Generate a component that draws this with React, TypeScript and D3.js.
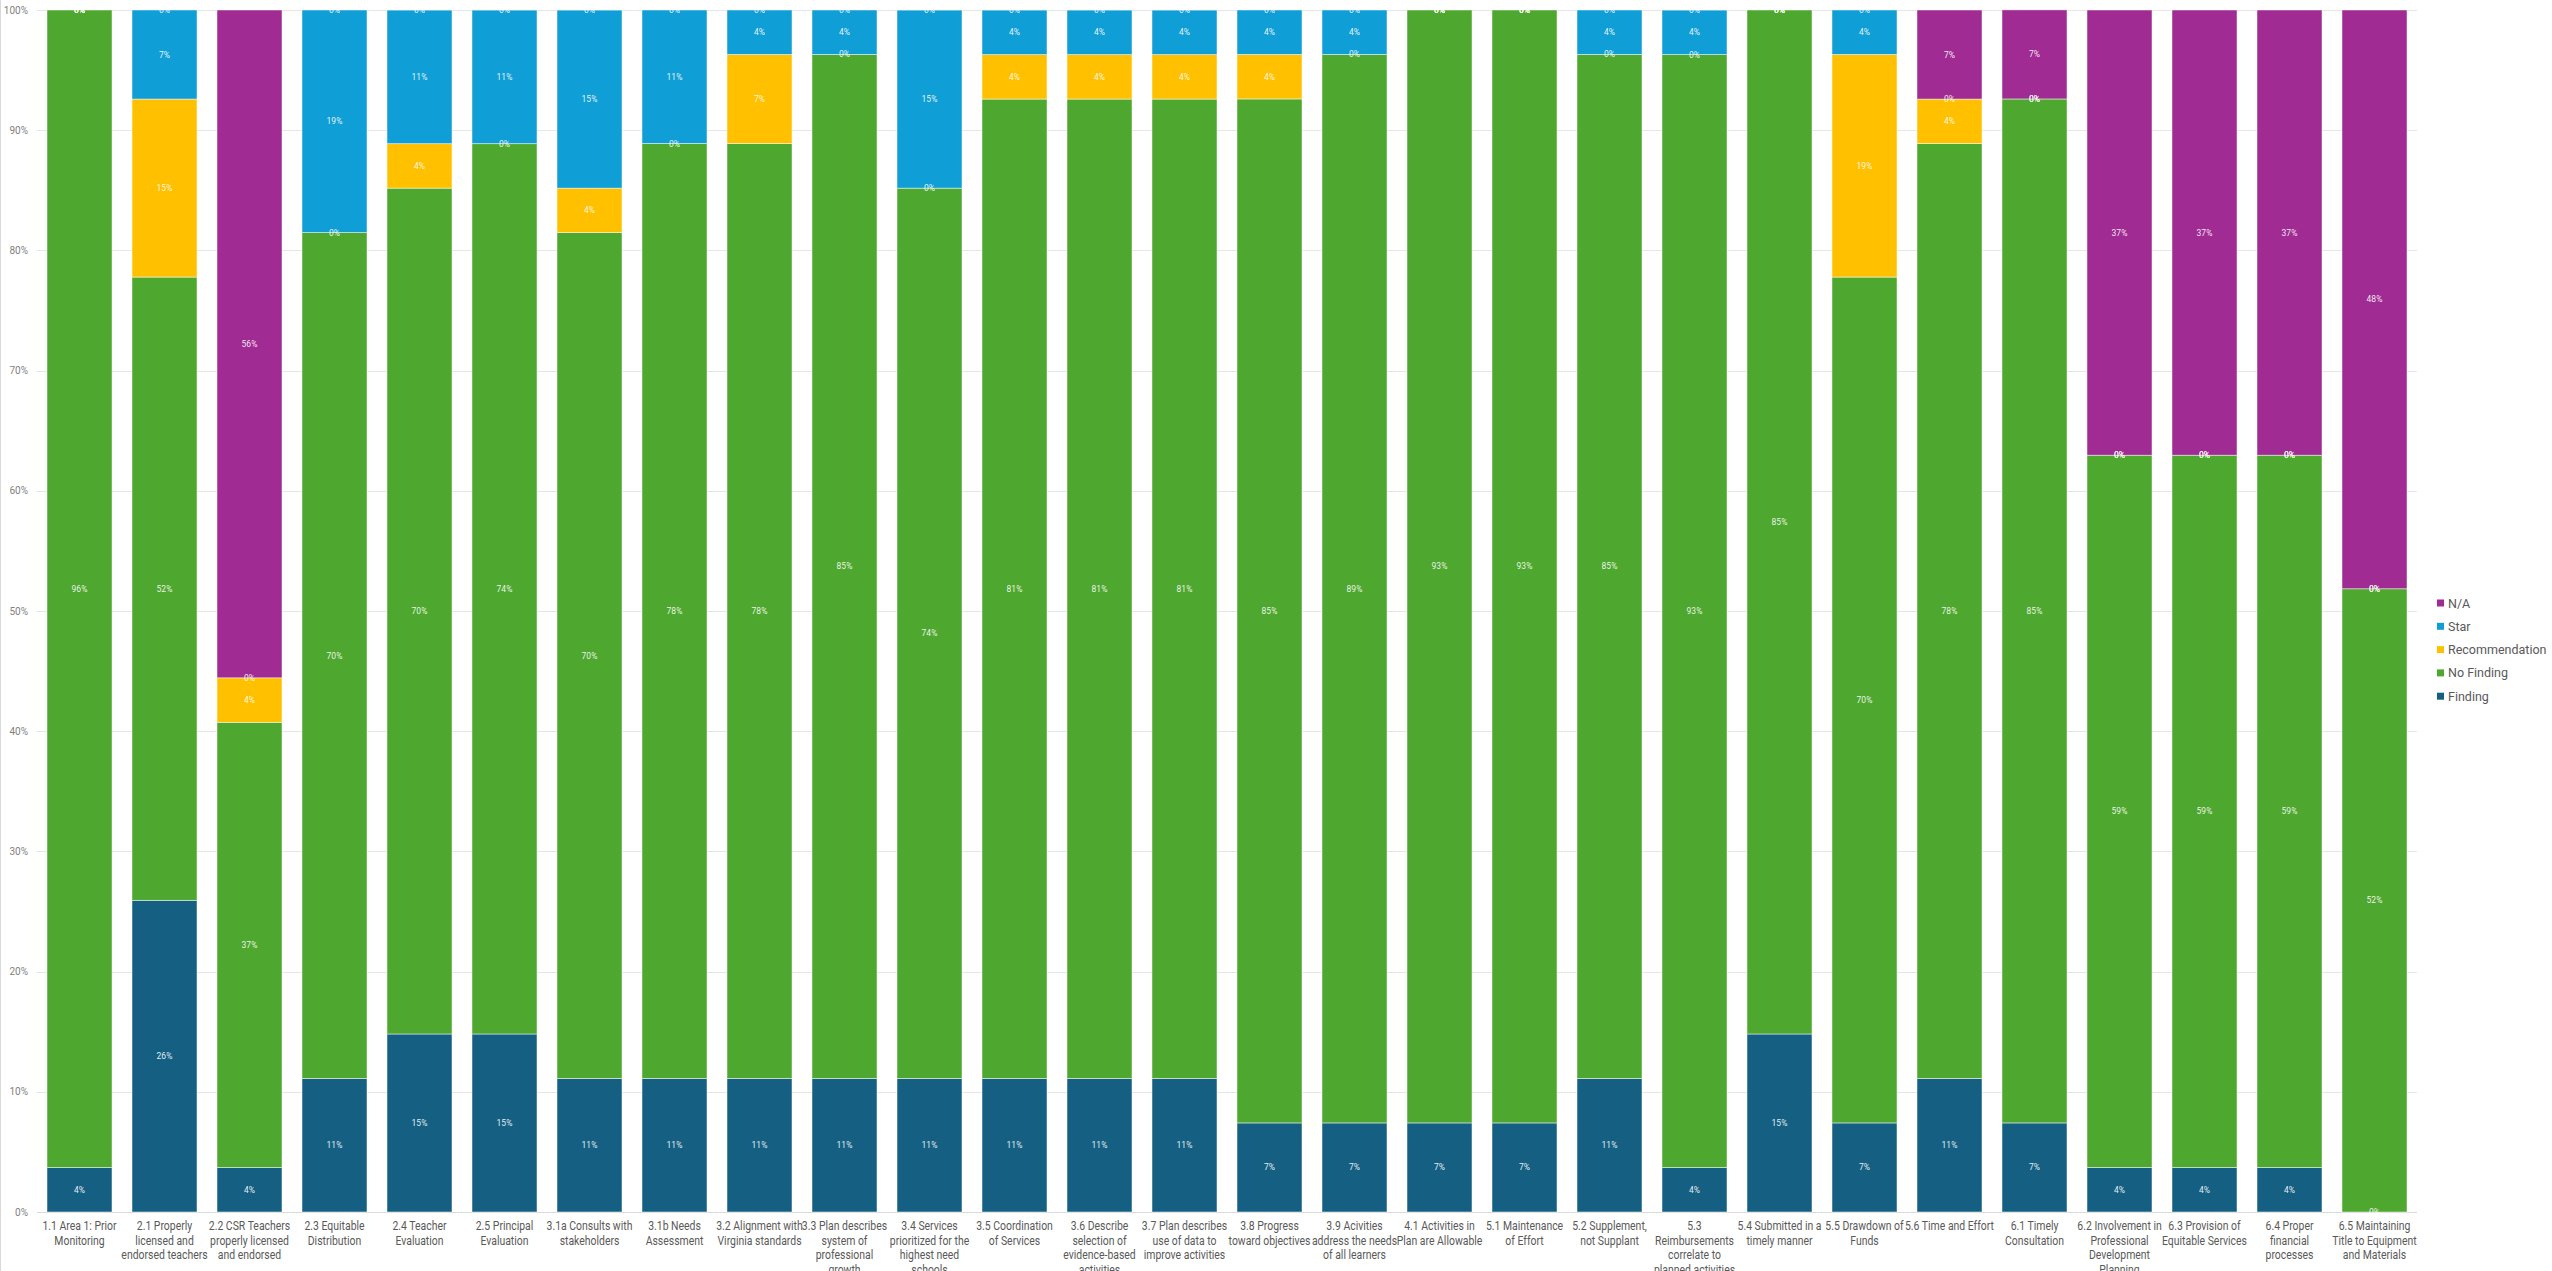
import React from "react";
import * as d3 from "d3";

const categoryLines: string[][] = [
  ["1.1 Area 1:  Prior", "Monitoring"],
  ["2.1 Properly", "licensed and", "endorsed teachers"],
  ["2.2 CSR Teachers", "properly licensed", "and endorsed"],
  ["2.3 Equitable", "Distribution"],
  ["2.4 Teacher", "Evaluation"],
  ["2.5 Principal", "Evaluation"],
  ["3.1a Consults with", "stakeholders"],
  ["3.1b Needs", "Assessment"],
  ["3.2 Alignment with", "Virginia standards"],
  ["3.3 Plan describes", "system of", "professional", "growth"],
  ["3.4 Services", "prioritized for the", "highest need", "schools"],
  ["3.5 Coordination", "of Services"],
  ["3.6 Describe", "selection of", "evidence-based", "activities"],
  ["3.7 Plan describes", "use of data to", "improve activities"],
  ["3.8 Progress", "toward objectives"],
  ["3.9 Acivities", "address the needs", "of all learners"],
  ["4.1 Activities in", "Plan are Allowable"],
  ["5.1 Maintenance", "of Effort"],
  ["5.2 Supplement,", "not Supplant"],
  ["5.3", "Reimbursements", "correlate to", "planned activities"],
  ["5.4 Submitted in a", "timely manner"],
  ["5.5 Drawdown of", "Funds"],
  ["5.6 Time and Effort"],
  ["6.1 Timely", "Consultation"],
  ["6.2 Involvement in", "Professional", "Development", "Planning"],
  ["6.3 Provision of", "Equitable Services"],
  ["6.4 Proper", "financial", "processes"],
  ["6.5 Maintaining", "Title to Equipment", "and Materials"],
];
const categories = categoryLines.map((l) => l.join(" "));

const finding = [3.70, 25.93, 3.70, 11.11, 14.81, 14.81, 11.11, 11.11, 11.11, 11.11, 11.11, 11.11, 11.11, 11.11, 7.41, 7.41, 7.41, 7.41, 11.11, 3.70, 14.81, 7.41, 11.11, 7.41, 3.70, 3.70, 3.70, 0];
const noFinding = [96.30, 51.85, 37.04, 70.37, 70.37, 74.07, 70.37, 77.78, 77.78, 85.19, 74.07, 81.48, 81.48, 81.48, 85.19, 88.89, 92.59, 92.59, 85.19, 92.59, 85.19, 70.37, 77.78, 85.19, 59.26, 59.26, 59.26, 51.85];
const recommendation = [0, 14.81, 3.70, 0, 3.70, 0, 3.70, 0, 7.41, 0, 0, 3.70, 3.70, 3.70, 3.70, 0, 0, 0, 0, 0, 0, 18.52, 3.70, 0, 0, 0, 0, 0];
const star = [0, 7.41, 0, 18.52, 11.11, 11.11, 14.81, 11.11, 3.70, 3.70, 14.81, 3.70, 3.70, 3.70, 3.70, 3.70, 0, 0, 3.70, 3.70, 0, 3.70, 0, 0, 0, 0, 0, 0];
const na = [0, 0, 55.56, 0, 0, 0, 0, 0, 0, 0, 0, 0, 0, 0, 0, 0, 0, 0, 0, 0, 0, 0, 7.41, 7.41, 37.04, 37.04, 37.04, 48.15];

const seriesNames = ["Finding", "No Finding", "Recommendation", "Star", "N/A"];
const seriesValues = [finding, noFinding, recommendation, star, na];
const seriesColors = ["#156082", "#4EA72E", "#FFC000", "#0F9ED5", "#A02B93"];
const yTicks = [0, 10, 20, 30, 40, 50, 60, 70, 80, 90, 100];

const W = 2552;
const H = 1271;
const plot = { left: 37, right: 2417, top: 10, bottom: 1212 };
const FONT = "Roboto, 'Noto Sans', sans-serif";

export default function App() {
  const x = d3
    .scaleBand<string>()
    .domain(categories)
    .range([plot.left, plot.right])
    .paddingInner(20 / 85)
    .paddingOuter(10 / 85);
  const y = d3.scaleLinear().domain([0, 100]).range([plot.bottom, plot.top]);

  const rows = categories.map((c, i) => {
    const r: any = { cat: c };
    seriesNames.forEach((s, k) => (r[s] = seriesValues[k][i]));
    return r;
  });
  const stacked = d3.stack<any>().keys(seriesNames)(rows);

  return (
    <svg
      width={W}
      height={H}
      style={{ position: "absolute", left: 0, top: 0, display: "block", background: "#fff" }}
      fontFamily={FONT}
    >
      <line x1={0.5} x2={0.5} y1={0} y2={H} stroke="#D9D9D9" strokeWidth={1} />
      {yTicks.map((t) => (
        <g key={t}>
          <line
            x1={plot.left}
            x2={plot.right}
            y1={Math.round(y(t)) + 0.5}
            y2={Math.round(y(t)) + 0.5}
            stroke={t === 0 ? "#D9D9D9" : "#E6E6E6"}
            strokeWidth={1}
          />
          <text
            x={28}
            y={y(t)}
            textAnchor="end"
            dominantBaseline="central"
            fontSize={10}
            fill="#7F7F7F"
          >
            {t}%
          </text>
        </g>
      ))}
      {stacked.map((layer, k) => (
        <g key={layer.key} fill={seriesColors[k]}>
          {layer.map((d, i) => (
            <rect
              key={i}
              x={x(categories[i])!}
              y={y(d[1])}
              width={x.bandwidth()}
              height={Math.max(0, y(d[0]) - y(d[1]))}
              stroke="#ffffff"
              strokeOpacity={0.6}
              strokeWidth={0.8}
            />
          ))}
        </g>
      ))}
      {stacked.map((layer, k) => (
        <g key={"l" + layer.key}>
          {layer.map((d, i) => (
            <text
              key={i}
              x={x(categories[i])! + x.bandwidth() / 2}
              y={y((d[0] + d[1]) / 2)}
              textAnchor="middle"
              dominantBaseline="central"
              fontSize={8.5}
              fill="#ffffff"
              fillOpacity={0.9}
            >
              {Math.round(d[1] - d[0])}%
            </text>
          ))}
        </g>
      ))}
      {categoryLines.map((lines, i) => (
        <g
          key={i}
          transform={`translate(${x(categories[i])! + x.bandwidth() / 2}, 1226) scale(0.87, 1)`}
        >
          <text textAnchor="middle" dominantBaseline="central" fontSize={12} fill="#595959">
            {lines.map((ln, j) => (
              <tspan key={j} x={0} dy={j === 0 ? 0 : 14.5}>
                {ln}
              </tspan>
            ))}
          </text>
        </g>
      ))}
      {seriesNames
        .map((s, k) => ({ s, k }))
        .reverse()
        .map(({ s, k }, j) => (
          <g key={s} transform={`translate(2437, ${603 + j * 23.3})`}>
            <rect x={0} y={-3.5} width={7} height={7} fill={seriesColors[k]} />
            <text x={11} y={0} dominantBaseline="central" fontSize={12.5} fill="#595959">
              {s}
            </text>
          </g>
        ))}
    </svg>
  );
}
